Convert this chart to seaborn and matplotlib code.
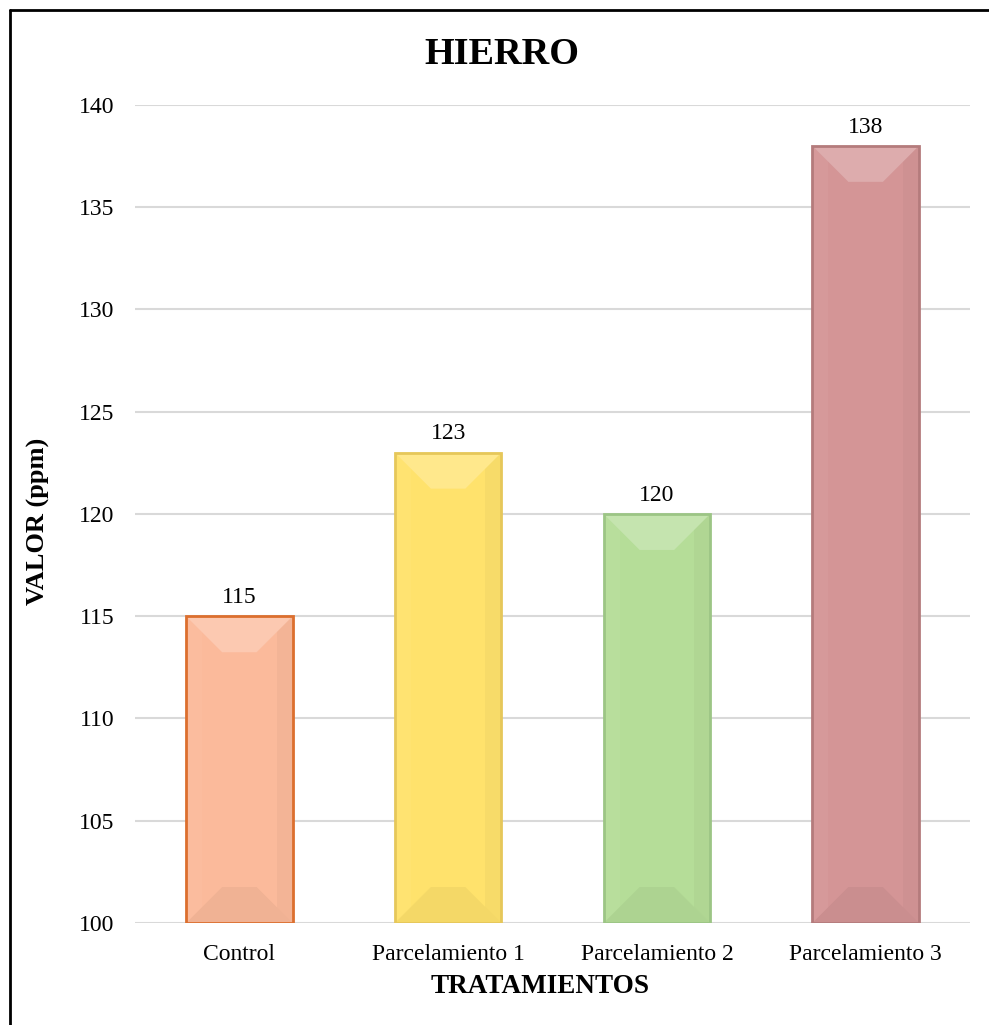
import numpy as np
import pandas as pd
import matplotlib
matplotlib.use("Agg")
import matplotlib.pyplot as plt
from matplotlib.lines import Line2D
from matplotlib.patches import Polygon
from matplotlib.colors import to_rgb
import seaborn as sns

# Iron content per treatment (ppm)
tratamientos = ["Control", "Parcelamiento 1", "Parcelamiento 2", "Parcelamiento 3"]
valores = [115, 123, 120, 138]
relleno = ["#FBBA9B", "#FFE26C", "#B5DD98", "#D49596"]
borde = ["#DC6F2E", "#E6C75A", "#9CC585", "#B47B7C"]
y_ticks = [100, 105, 110, 115, 120, 125, 130, 135, 140]

sns.set_theme(style="white")
plt.rcParams["font.family"] = ["Liberation Serif", "DejaVu Serif"]
plt.rcParams["text.color"] = "black"

df = pd.DataFrame({"tratamiento": tratamientos, "valor": valores})

fig = plt.figure(figsize=(9.89, 10.25), dpi=100)
ax = fig.add_axes([0.1365, 0.0995, 0.8443, 0.7981])

sns.barplot(data=df, x="tratamiento", y="valor", hue="tratamiento",
            palette=relleno, legend=False, width=0.51, ax=ax, zorder=3,
            saturation=1)

ax.set_ylim(100, 140)
ax.set_xlim(-0.5, len(tratamientos) - 0.5)
ax.set_yticks(y_ticks)
ax.yaxis.grid(True, color="#D9D9D9", linewidth=1.5, zorder=0)
ax.xaxis.grid(False)
for s in ax.spines.values():
    s.set_visible(False)
ax.axhline(100, color="#D9D9D9", linewidth=1.8, zorder=1)
ax.tick_params(axis="both", length=0, labelsize=17, colors="black")
ax.tick_params(axis="y", pad=15)
ax.tick_params(axis="x", pad=15)
ax.set_xlabel("")
ax.set_ylabel("")

# bevel depth in pixels converted to data units
fig.canvas.draw()
bb = ax.get_window_extent()
ymin, ymax = ax.get_ylim()
bevel_px = 36
side_px = 16
dx = bevel_px * len(tratamientos) / bb.width
dy = bevel_px * (ymax - ymin) / bb.height
sx = side_px * len(tratamientos) / bb.width


def shade(c, f):
    r = np.array(to_rgb(c))
    if f >= 0:
        return tuple(r + (1 - r) * f)
    return tuple(r * (1 + f))


for patch, col, ec, v in zip(ax.patches, relleno, borde, valores):
    x0 = patch.get_x()
    w = patch.get_width()
    x1 = x0 + w
    y0 = max(patch.get_y(), ymin)
    y1 = patch.get_y() + patch.get_height()
    patch.set_edgecolor("none")
    # soft side bands
    ax.add_patch(Polygon([(x0, y0), (x0 + sx, y0), (x0 + sx, y1), (x0, y1)],
                         closed=True, facecolor=shade(col, 0.035), edgecolor="none", zorder=3.4))
    ax.add_patch(Polygon([(x1, y0), (x1 - sx, y0), (x1 - sx, y1), (x1, y1)],
                         closed=True, facecolor=shade(col, -0.03), edgecolor="none", zorder=3.4))
    # top facet (lighter)
    ax.add_patch(Polygon([(x0, y1), (x1, y1), (x1 - dx, y1 - dy), (x0 + dx, y1 - dy)],
                         closed=True, facecolor=shade(col, 0.22), edgecolor="none", zorder=3.5))
    # bottom facet (darker)
    ax.add_patch(Polygon([(x0, y0), (x1, y0), (x1 - dx, y0 + dy), (x0 + dx, y0 + dy)],
                         closed=True, facecolor=shade(col, -0.045), edgecolor="none", zorder=3.5))
    # outline above the facets
    ax.add_patch(Polygon([(x0, y0), (x1, y0), (x1, y1), (x0, y1)], closed=True,
                         facecolor="none", edgecolor=ec, linewidth=2.0, zorder=4))
    ax.annotate(f"{v}", (x0 + w / 2, y1), xytext=(0, 6),
                textcoords="offset points", ha="center", va="bottom",
                fontsize=17, color="black")

fig.text(0.5076, 0.947, "HIERRO", ha="center", va="center",
         fontsize=27.5, fontweight="bold", color="black")
fig.text(0.0385, 0.491, "VALOR (ppm)", ha="center", va="center", rotation=90,
         fontsize=19, fontweight="bold", color="black")
fig.text(0.5465, 0.038, "TRATAMIENTOS", ha="center", va="center",
         fontsize=19.5, fontweight="bold", color="black")

# chart frame
fx = 9.5 / 989
fy = 1 - 9.5 / 1025
fig.add_artist(Line2D([fx, 1.01], [fy, fy], transform=fig.transFigure,
                      color="black", linewidth=2.0))
fig.add_artist(Line2D([fx, fx], [fy, -0.01], transform=fig.transFigure,
                      color="black", linewidth=2.0))

fig.savefig("out.png", dpi=100)
